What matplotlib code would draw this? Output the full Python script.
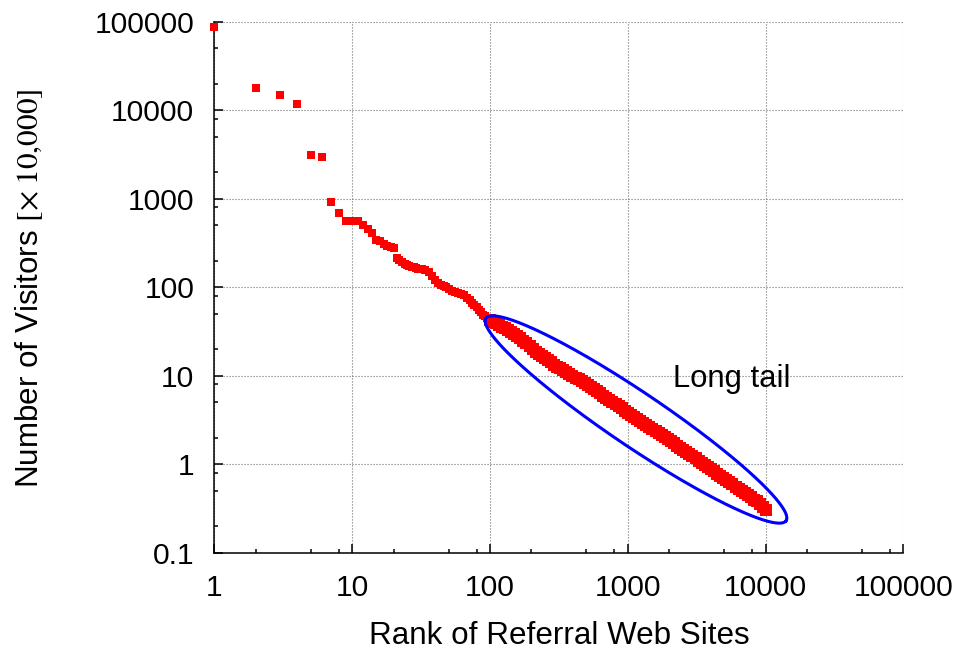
import numpy as np
import matplotlib
matplotlib.use("Agg")
import matplotlib.pyplot as plt
from matplotlib.ticker import FixedLocator, FixedFormatter, LogLocator, NullFormatter

# ---------------- data ----------------
head_ranks = [1, 2, 3, 4, 5, 6, 7, 8, 9, 10, 11, 12, 13, 14, 15, 16, 17, 18, 19, 20,
              21, 22, 23, 24, 25, 26, 27, 28, 29, 30, 32, 34, 36, 38, 40, 42, 44, 46,
              48, 50, 53, 56, 59, 62, 65, 68, 71, 74, 77, 80, 83, 86, 89, 92, 95, 98]
head_visitors = [88000, 17900, 14850, 11650, 3090, 2985, 918, 695, 565, 560, 555, 505,
                 450, 415, 345, 330, 310, 295, 285, 275, 212, 205, 194, 185, 178, 172,
                 170, 168, 165, 162, 162, 155, 148, 135, 120, 112, 106, 103, 100, 96,
                 91, 88, 85, 83, 81, 76, 71, 67, 63, 59, 55, 52, 49, 47, 45, 43]

tail_ranks = [100, 105, 110, 116, 122, 128, 135, 142, 150, 158, 166, 175, 184, 194, 204,
              215, 226, 238, 250, 263, 277, 292, 307, 323, 340, 358, 377, 397, 418, 440,
              463, 487, 513, 540, 568, 598, 630, 663, 698, 735, 774, 815, 858, 903, 951,
              1000, 1053, 1109, 1167, 1229, 1294, 1362, 1434, 1510, 1590, 1674, 1762,
              1855, 1953, 2056, 2165, 2279, 2399, 2526, 2659, 2800, 2948, 3103, 3267,
              3440, 3622, 3813, 4014, 4226, 4449, 4684, 4932, 5192, 5466, 5755, 6059,
              6379, 6716, 7071, 7444, 7837, 8251, 8687, 9146, 9629, 10000]
tail_visitors = [42.7, 40.8, 39.2, 37.4, 35.7, 34.2, 32.5, 31.0, 29.4, 27.9, 26.7, 24.8,
                 23.2, 21.5, 20.1, 18.7, 17.5, 16.6, 15.7, 14.9, 14.1, 13.3, 12.7, 12.1,
                 11.6, 11.0, 10.5, 10.0, 9.53, 9.08, 8.63, 8.24, 7.85, 7.43, 7.05, 6.65,
                 6.30, 5.96, 5.64, 5.33, 5.04, 4.76, 4.51, 4.26, 4.03, 3.82, 3.61, 3.41,
                 3.24, 3.07, 2.92, 2.79, 2.65, 2.52, 2.40, 2.27, 2.14, 2.03, 1.91, 1.81,
                 1.72, 1.62, 1.54, 1.46, 1.38, 1.30, 1.23, 1.16, 1.10, 1.04, 0.984, 0.931,
                 0.879, 0.830, 0.785, 0.740, 0.700, 0.662, 0.624, 0.590, 0.558, 0.527,
                 0.499, 0.472, 0.446, 0.422, 0.398, 0.380, 0.355, 0.330, 0.305]

x_ticks = [1, 10, 100, 1000, 10000, 100000]
x_tick_labels = ["1", "10", "100", "1000", "10000", "100000"]
y_ticks = [0.1, 1, 10, 100, 1000, 10000, 100000]
y_tick_labels = ["0.1", "1", "10", "100", "1000", "10000", "100000"]

x_label = "Rank of Referral Web Sites"
y_label = r"Number of Visitors $[\times\;10{,}000]$"
annotation_text = "Long tail"

# ---------------- style ----------------
plt.rcParams['font.family'] = ['Liberation Sans', 'DejaVu Sans']
plt.rcParams['mathtext.fontset'] = 'stix'
FS = 21.6
FS_LABEL = 22.6

fig = plt.figure(figsize=(9.66, 6.54), dpi=100)
ax = fig.add_axes([0.2220, 0.1549, 0.7131, 0.8119])

ax.set_xscale('log')
ax.set_yscale('log')
ax.set_xlim(1, 100000)
ax.set_ylim(0.1, 100000)

red = '#ff0000'
ax.plot(tail_ranks, tail_visitors, 's', color=red, markersize=8.6, markeredgewidth=0,
        clip_on=False, zorder=3)
ax.plot(head_ranks, head_visitors, 's', color=red, markersize=6.2, markeredgewidth=0,
        clip_on=False, zorder=3)

# ticks
ax.xaxis.set_major_locator(FixedLocator(x_ticks))
ax.xaxis.set_major_formatter(FixedFormatter(x_tick_labels))
ax.yaxis.set_major_locator(FixedLocator(y_ticks))
ax.yaxis.set_major_formatter(FixedFormatter(y_tick_labels))
ax.xaxis.set_minor_locator(LogLocator(base=10, subs=[2, 5, 8], numticks=20))
ax.yaxis.set_minor_locator(LogLocator(base=10, subs=[2, 5, 8], numticks=20))
ax.xaxis.set_minor_formatter(NullFormatter())
ax.yaxis.set_minor_formatter(NullFormatter())

ax.tick_params(which='both', direction='in', width=1.1, color='black')
ax.tick_params(which='major', length=6.5)
ax.tick_params(which='minor', length=3.2)
ax.tick_params(axis='x', which='major', pad=15, labelsize=FS)
ax.tick_params(axis='y', which='major', pad=14.5, labelsize=FS)
ax.tick_params(top=False, right=False)

for s in ['top', 'right']:
    ax.spines[s].set_visible(False)
for s in ['left', 'bottom']:
    ax.spines[s].set_linewidth(1.1)

ax.grid(True, which='major', color='#707070', linestyle=(0, (1, 1.7)), linewidth=0.8)
ax.set_axisbelow(True)

ax.set_xlabel(x_label, fontsize=FS_LABEL, va='baseline')
ax.xaxis.set_label_coords(0.5, -0.1719)
ax.set_ylabel(y_label, fontsize=FS_LABEL, va='baseline')
ax.yaxis.set_label_coords(-0.2560, 0.4989)

# annotation: ellipse around the long tail (drawn in display space, mapped to data)
ell_center = (1148, 3.2)
ell_semi_major_px = 181.0
ell_semi_minor_px = 27.0
ell_angle_deg = -34.0
t = np.linspace(0, 2 * np.pi, 400)
th = np.deg2rad(ell_angle_deg)
cx, cy = ax.transData.transform(ell_center)
px = cx + ell_semi_major_px * np.cos(t) * np.cos(th) - ell_semi_minor_px * np.sin(t) * np.sin(th)
py = cy + ell_semi_major_px * np.cos(t) * np.sin(th) + ell_semi_minor_px * np.sin(t) * np.cos(th)
pts = ax.transData.inverted().transform(np.column_stack([px, py]))
ax.plot(pts[:, 0], pts[:, 1], color='#0000ff', linewidth=2.2, zorder=4)

ax.text(2140, 7.4, annotation_text, fontsize=22.3, ha='left', va='baseline', zorder=5)

fig.savefig('out.png', dpi=100)
